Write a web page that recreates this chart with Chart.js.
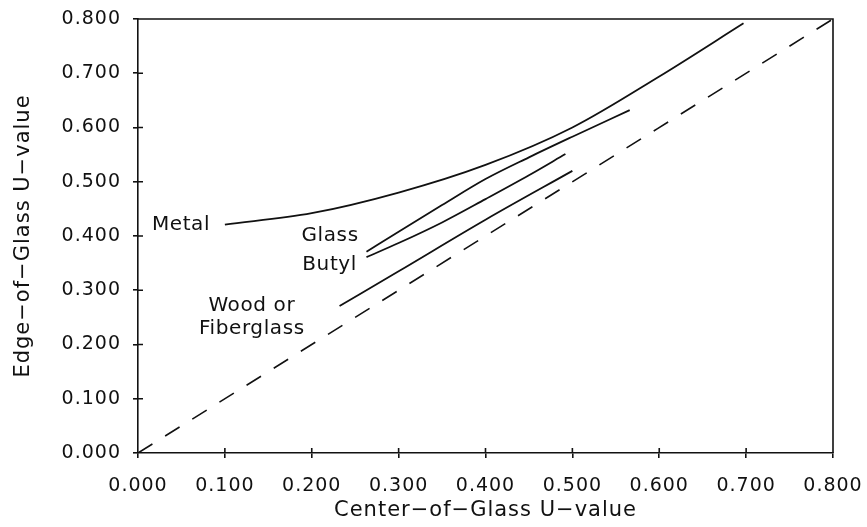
<!DOCTYPE html>
<html>
<head>
<meta charset="utf-8">
<script src="https://cdn.jsdelivr.net/npm/chart.js@4/dist/chart.umd.min.js"></script>
<style>
  html, body { margin: 0; padding: 0; background: #fff; }
  #wrap { width: 867px; height: 527px; }
</style>
</head>
<body>
<div id="wrap"><canvas id="myChart"></canvas></div>
<script>
/* ============== Data ===========*/

const metalX = [0.100, 0.200, 0.300, 0.400, 0.500, 0.600, 0.697];
const metalY = [0.421, 0.442, 0.480, 0.531, 0.600, 0.694, 0.792];

const glassX = [0.263, 0.300, 0.350, 0.400, 0.450, 0.500, 0.566];
const glassY = [0.371, 0.408, 0.457, 0.505, 0.545, 0.583, 0.632];

const butylX = [0.263, 0.300, 0.350, 0.400, 0.450, 0.492];
const butylY = [0.361, 0.387, 0.425, 0.468, 0.512, 0.551];

const woodX = [0.232, 0.300, 0.400, 0.500];
const woodY = [0.271, 0.335, 0.430, 0.520];

const diagX = [0.000, 0.800];
const diagY = [0.000, 0.800];

const tickValues = [0, 0.1, 0.2, 0.3, 0.4, 0.5, 0.6, 0.7, 0.8];

// curve labels: text lines, anchor in data units
const noteText = [['Metal'], ['Glass'], ['Butyl'], ['Wood or', 'Fiberglass']];
const noteX = [0.083, 0.254, 0.252, 0.131];
const noteY = [0.421, 0.400, 0.347, 0.250];
const noteAlign = ['right', 'right', 'right', 'center'];

const pts = (xs, ys) => xs.map((x, i) => ({ x, y: ys[i] }));

/* ============== Plugins ===========*/

const ink = '#111';

const frame = {
  id: 'frame',
  beforeDraw(chart) {
    chart.ctx.letterSpacing = '1px';
  },
  afterDraw(chart) {
    const { ctx, chartArea: a, scales: { x, y } } = chart;
    ctx.save();
    ctx.letterSpacing = '0px';
    ctx.strokeStyle = ink;
    ctx.lineWidth = 1.6;
    // top and right border
    ctx.beginPath();
    ctx.moveTo(a.left, a.top);
    ctx.lineTo(a.right, a.top);
    ctx.lineTo(a.right, a.bottom);
    ctx.stroke();
    // inward half of tick marks
    ctx.beginPath();
    x.ticks.forEach(t => {
      const px = x.getPixelForValue(t.value);
      if (t.value > 0 && t.value < 0.8) { ctx.moveTo(px, a.bottom); ctx.lineTo(px, a.bottom - 5); }
    });
    y.ticks.forEach(t => {
      const py = y.getPixelForValue(t.value);
      if (t.value > 0 && t.value < 0.8) { ctx.moveTo(a.left, py); ctx.lineTo(a.left + 5, py); }
    });
    ctx.stroke();

    // curve labels
    ctx.fillStyle = ink;
    ctx.font = '20px "DejaVu Sans"';
    ctx.letterSpacing = '0.6px';
    ctx.textBaseline = 'middle';
    noteText.forEach((lines, i) => {
      ctx.textAlign = noteAlign[i];
      const px = x.getPixelForValue(noteX[i]);
      const py = y.getPixelForValue(noteY[i]);
      lines.forEach((s, j) => {
        const off = (j - (lines.length - 1) / 2) * 23;
        ctx.fillText(s, px, py + off);
      });
    });
    ctx.restore();
  }
};

/* ============== Chart ===========*/

const solid = (data) => ({
  data,
  borderColor: ink,
  borderWidth: 1.8,
  pointRadius: 0,
  fill: false,
  cubicInterpolationMode: 'monotone'
});

const datasets = [
  solid(pts(metalX, metalY)),
  solid(pts(glassX, glassY)),
  solid(pts(butylX, butylY)),
  solid(pts(woodX, woodY)),
  Object.assign(solid(pts(diagX, diagY)), { borderDash: [17, 15], borderWidth: 1.6 })
];

const tickFont = { family: 'DejaVu Sans', size: 19 };
const titleFont = { family: 'DejaVu Sans', size: 21 };

const config = {
  type: 'line',
  data: { datasets },
  options: {
    responsive: true,
    maintainAspectRatio: false,
    animation: false,
    layout: { padding: { top: 19, right: 34, left: 0, bottom: 0 } },
    plugins: { legend: { display: false }, tooltip: { enabled: false } },
    scales: {
      x: {
        type: 'linear',
        min: 0, max: 0.8,
        afterBuildTicks: s => { s.ticks = tickValues.map(v => ({ value: v })); },
        afterFit: s => { s.height = 74; s.paddingLeft = 0; s.paddingRight = 0; },
        grid: { drawOnChartArea: false, tickLength: 5, color: ink, lineWidth: 1.6 },
        border: { color: ink, width: 1.6 },
        ticks: { color: ink, font: tickFont, padding: 17, maxRotation: 0,
          callback: v => v.toFixed(3) },
        title: { display: true, text: 'Center−of−Glass U−value', color: ink, font: titleFont,
          padding: { top: 4, bottom: 4 } }
      },
      y: {
        type: 'linear',
        min: 0, max: 0.8,
        afterBuildTicks: s => { s.ticks = tickValues.map(v => ({ value: v })); },
        afterFit: s => { s.width = 138; s.paddingTop = 0; s.paddingBottom = 0; },
        grid: { drawOnChartArea: false, tickLength: 5, color: ink, lineWidth: 1.6 },
        border: { color: ink, width: 1.6 },
        ticks: { color: ink, font: tickFont, padding: 12,
          callback: v => v.toFixed(3) },
        title: { display: true, text: 'Edge−of−Glass U−value', color: ink, font: titleFont,
          padding: { top: 11, bottom: 4 } }
      }
    }
  },
  plugins: [frame]
};

const myChart = new Chart(document.getElementById('myChart'), config);
</script>
</body>
</html>
